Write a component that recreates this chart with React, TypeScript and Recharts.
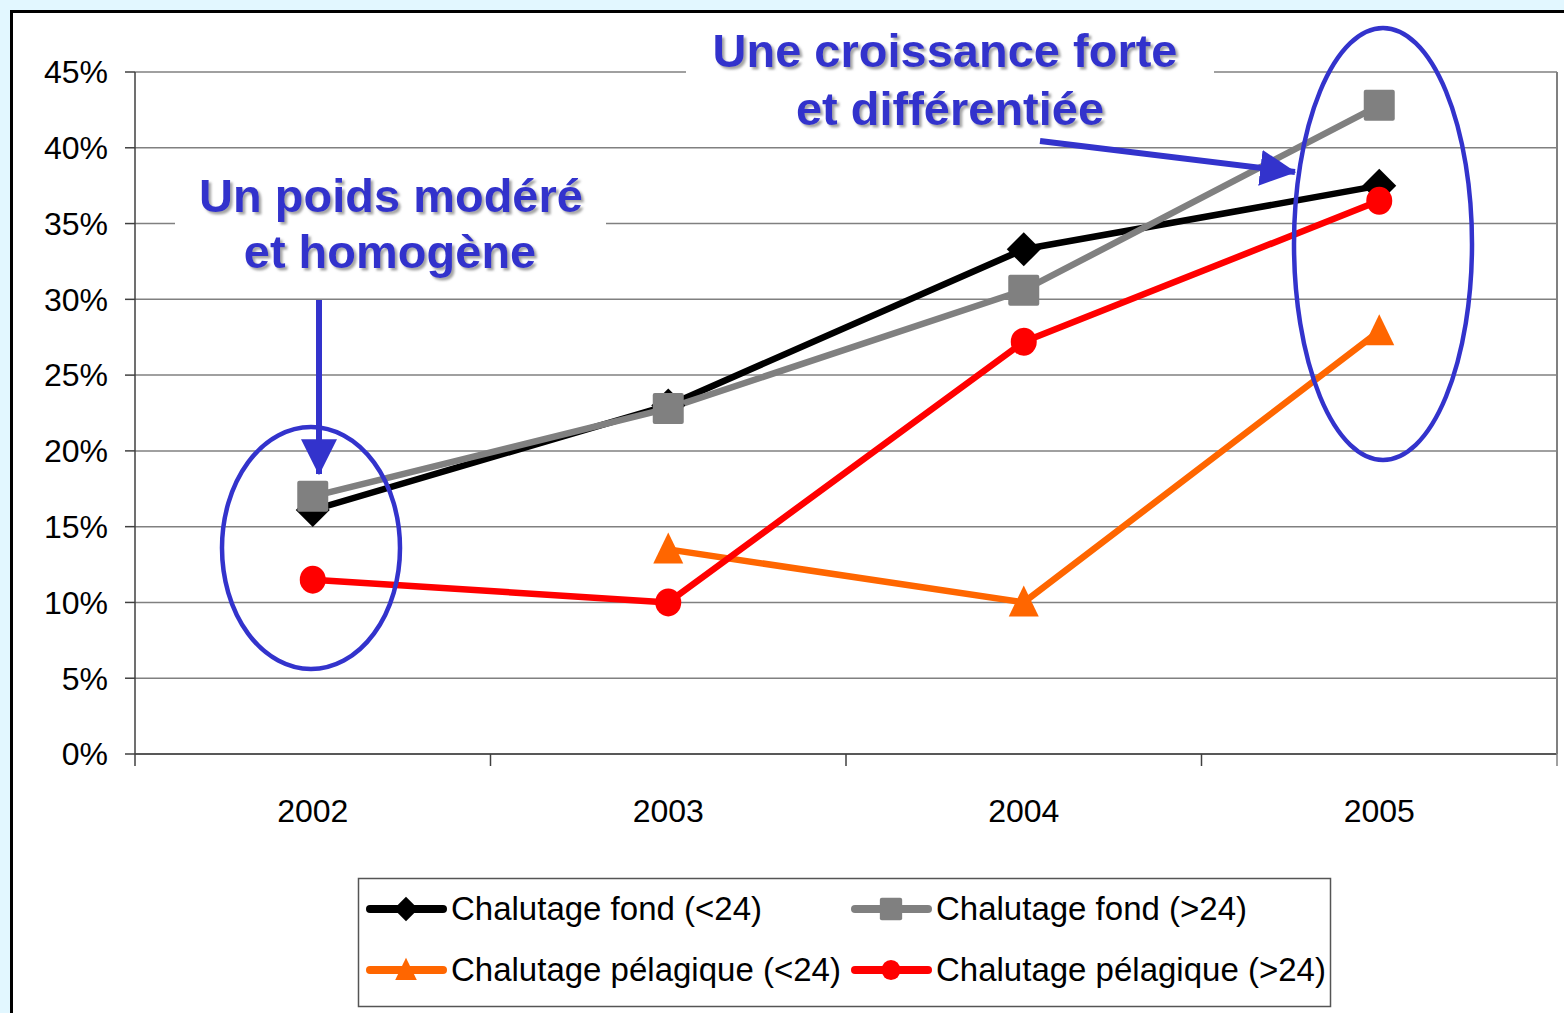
import { CartesianGrid, Line, LineChart, XAxis, YAxis } from "recharts";

const years = ["2002", "2003", "2004", "2005"];
const fondMoins24 = [16.1, 23.0, 33.3, 37.5];
const fondPlus24 = [17.0, 22.8, 30.6, 42.8];
const pelagiqueMoins24 = [null, 13.5, 10.0, 27.9];
const pelagiquePlus24 = [11.5, 10.0, 27.2, 36.5];
const yTicks = [0, 5, 10, 15, 20, 25, 30, 35, 40, 45];

const series = [
  { key: "fondMoins24", name: "Chalutage fond (<24)", color: "#000000", marker: "diamond" },
  { key: "fondPlus24", name: "Chalutage fond (>24)", color: "#808080", marker: "square" },
  { key: "pelagiqueMoins24", name: "Chalutage pélagique (<24)", color: "#ff6600", marker: "triangle" },
  { key: "pelagiquePlus24", name: "Chalutage pélagique (>24)", color: "#ff0000", marker: "circle" },
];

const data = years.map((year, i) => ({
  year,
  fondMoins24: fondMoins24[i],
  fondPlus24: fondPlus24[i],
  pelagiqueMoins24: pelagiqueMoins24[i],
  pelagiquePlus24: pelagiquePlus24[i],
}));

const W = 1564;
const H = 1013;
const PLOT_LEFT = 135;
const PLOT_RIGHT = 1557;
const PLOT_TOP = 72;
const PLOT_BOTTOM = 754;
const BAND = (PLOT_RIGHT - PLOT_LEFT) / years.length;
const FONT = '"Liberation Sans", Arial, Helvetica, sans-serif';
const BLUE = "#3333cc";

function Marker({ type, cx, cy, color, s = 1 }: any) {
  if (type === "diamond") {
    const d = 17 * s;
    return <polygon points={`${cx},${cy - d} ${cx + d},${cy} ${cx},${cy + d} ${cx - d},${cy}`} fill={color} />;
  }
  if (type === "square") {
    const h = 15.5 * s;
    return <rect x={cx - h} y={cy - h} width={h * 2} height={h * 2} rx={2} fill={color} />;
  }
  if (type === "triangle") {
    return (
      <polygon
        points={`${cx},${cy - 17 * s} ${cx + 15 * s},${cy + 14 * s} ${cx - 15 * s},${cy + 14 * s}`}
        fill={color}
      />
    );
  }
  return <ellipse cx={cx} cy={cy} rx={13 * s} ry={14 * s} fill={color} />;
}

function YearTick(props: any) {
  const { x, y, payload, index } = props;
  const half = BAND / 2;
  return (
    <g>
      <line x1={x - half} x2={x - half} y1={y} y2={y + 12} stroke="#404040" strokeWidth={1.5} />
      {index === years.length - 1 && (
        <line x1={x + half} x2={x + half} y1={y} y2={y + 12} stroke="#808080" strokeWidth={1.5} />
      )}
      <text x={x} y={y + 68} textAnchor="middle" fontSize={32} fontFamily={FONT} fill="#000">
        {payload.value}
      </text>
    </g>
  );
}

function Annotations() {
  const legendPos = [
    [370, 909],
    [855, 909],
    [370, 970],
    [855, 970],
  ];
  return (
    <svg
      width={W}
      height={H}
      style={{ position: "absolute", left: 0, top: 0, pointerEvents: "none" }}
    >
      <defs>
        <filter id="shadow" x="-10%" y="-30%" width="120%" height="160%">
          <feDropShadow dx="2.5" dy="2.5" stdDeviation="1" floodColor="#9a9a9a" floodOpacity="0.9" />
        </filter>
        <marker id="head" markerWidth="6" markerHeight="6" refX="5.8" refY="3" orient="auto" markerUnits="strokeWidth">
          <path d="M0,0 L6,3 L0,6 z" fill={BLUE} />
        </marker>
      </defs>

      {/* text boxes */}
      <rect x={686} y={14} width={528} height={126} fill="#fff" />
      <rect x={175} y={160} width={431} height={125} fill="#fff" />
      <g fontFamily={FONT} fontWeight="bold" fontSize={47} fill={BLUE} textAnchor="middle" filter="url(#shadow)">
        <text x={945} y={67}>Une croissance forte</text>
        <text x={950} y={125}>et différentiée</text>
        <text x={391} y={212}>Un poids modéré</text>
        <text x={390} y={268}>et homogène</text>
      </g>

      {/* arrows */}
      <line x1={319} y1={300} x2={319} y2={474} stroke={BLUE} strokeWidth={6} markerEnd="url(#head)" />
      <line x1={1040} y1={141} x2={1295} y2={172} stroke={BLUE} strokeWidth={6} markerEnd="url(#head)" />

      {/* ellipses */}
      <ellipse cx={311} cy={548} rx={89} ry={121} fill="none" stroke={BLUE} strokeWidth={4.5} />
      <ellipse cx={1383} cy={244} rx={89} ry={216} fill="none" stroke={BLUE} strokeWidth={4.5} />

      {/* legend */}
      <rect x={358.5} y={878.5} width={972} height={128} fill="#fff" stroke="#555" strokeWidth={1.5} />
      {series.map((s, i) => {
        const [x, y] = legendPos[i];
        return (
          <g key={s.key}>
            <line x1={x} x2={x + 73} y1={y} y2={y} stroke={s.color} strokeWidth={8} strokeLinecap="round" />
            <Marker type={s.marker} cx={x + 36} cy={y} color={s.color} s={0.72} />
            <text x={x + 81} y={y + 11} fontSize={33} fontFamily={FONT} fill="#000">
              {s.name}
            </text>
          </g>
        );
      })}
    </svg>
  );
}

export default function App() {
  return (
    <div
      style={{
        position: "fixed",
        left: 0,
        top: 0,
        width: W,
        height: H,
        overflow: "hidden",
        background: "#e2f7ff",
      }}
    >
      <div
        style={{
          position: "absolute",
          left: 10,
          top: 10,
          width: 1700,
          height: 1200,
          border: "3px solid #000",
          background: "#fff",
        }}
      />
      <div style={{ position: "absolute", left: 0, top: 0 }}>
        <LineChart
          width={W}
          height={H}
          data={data}
          margin={{ top: PLOT_TOP, right: W - PLOT_RIGHT - 2, bottom: H - PLOT_BOTTOM - 80, left: PLOT_LEFT - 60 }}
        >
          <CartesianGrid horizontal vertical={false} stroke="#808080" strokeWidth={1.5} />
          <XAxis
            dataKey="year"
            height={80}
            padding={{ left: BAND / 2, right: BAND / 2 }}
            tickLine={false}
            tickSize={0}
            tickMargin={0}
            axisLine={{ stroke: "#404040", strokeWidth: 1.5 }}
            tick={<YearTick />}
            interval={0}
          />
          <YAxis
            domain={[0, 45]}
            ticks={yTicks}
            width={60}
            tickSize={10}
            tickMargin={17}
            tickFormatter={(v) => `${v}%`}
            tick={{ fontSize: 32, fill: "#000", fontFamily: FONT }}
            tickLine={{ stroke: "#404040", strokeWidth: 1.5 }}
            axisLine={{ stroke: "#404040", strokeWidth: 1.5 }}
            allowDataOverflow
          />
          <YAxis
            yAxisId="right"
            orientation="right"
            domain={[0, 45]}
            width={2}
            tick={false}
            tickLine={false}
            axisLine={{ stroke: "#808080", strokeWidth: 2 }}
          />
          {series.map((s) => (
            <Line
              key={s.key}
              type="linear"
              dataKey={s.key}
              name={s.name}
              stroke={s.color}
              strokeWidth={6.5}
              strokeLinejoin="round"
              strokeLinecap="round"
              isAnimationActive={false}
              activeDot={false}
              dot={(p: any) =>
                p.cx == null || p.cy == null || p.value == null ? (
                  <g key={`${s.key}-${p.index}`} />
                ) : (
                  <Marker key={`${s.key}-${p.index}`} type={s.marker} cx={p.cx} cy={p.cy} color={s.color} />
                )
              }
            />
          ))}
        </LineChart>
      </div>
      <Annotations />
    </div>
  );
}
